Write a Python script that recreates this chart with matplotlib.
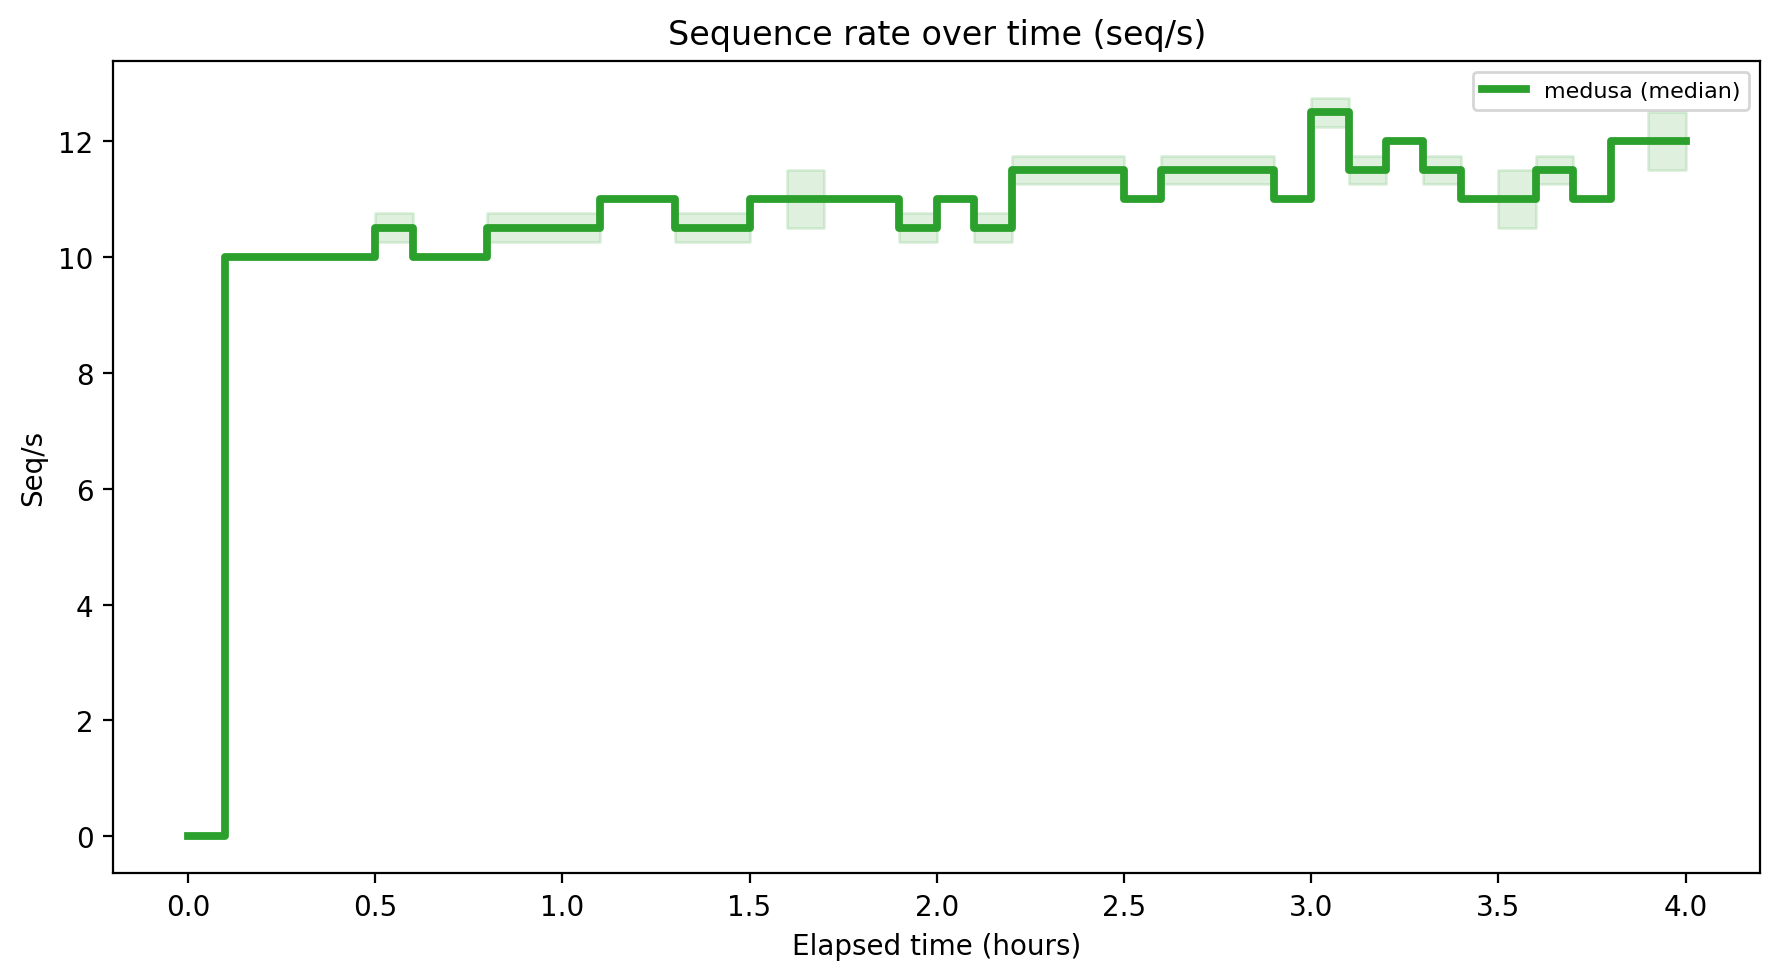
import numpy as np
from matplotlib import pyplot as plt

# elapsed time (hours), sampled every 0.1 h
hours = [0.0, 0.1, 0.2, 0.3, 0.4, 0.5, 0.6, 0.7, 0.8, 0.9,
         1.0, 1.1, 1.2, 1.3, 1.4, 1.5, 1.6, 1.7, 1.8, 1.9,
         2.0, 2.1, 2.2, 2.3, 2.4, 2.5, 2.6, 2.7, 2.8, 2.9,
         3.0, 3.1, 3.2, 3.3, 3.4, 3.5, 3.6, 3.7, 3.8, 3.9, 4.0]

# median sequence rate per bin (seq/s)
median = [0, 10, 10, 10, 10, 10.5, 10, 10, 10.5, 10.5,
          10.5, 11, 11, 10.5, 10.5, 11, 11, 11, 11, 10.5,
          11, 10.5, 11.5, 11.5, 11.5, 11, 11.5, 11.5, 11.5, 11,
          12.5, 11.5, 12, 11.5, 11, 11, 11.5, 11, 12, 12, 12]

# spread around the median (lower / upper bound)
low = [0, 10, 10, 10, 10, 10.25, 10, 10, 10.25, 10.25,
       10.25, 11, 11, 10.25, 10.25, 11, 10.5, 11, 11, 10.25,
       11, 10.25, 11.25, 11.25, 11.25, 11, 11.25, 11.25, 11.25, 11,
       12.25, 11.25, 12, 11.25, 11, 10.5, 11.25, 11, 12, 11.5, 12]
high = [0, 10, 10, 10, 10, 10.75, 10, 10, 10.75, 10.75,
        10.75, 11, 11, 10.75, 10.75, 11, 11.5, 11, 11, 10.75,
        11, 10.75, 11.75, 11.75, 11.75, 11, 11.75, 11.75, 11.75, 11,
        12.75, 11.75, 12, 11.75, 11, 11.5, 11.75, 11, 12, 12.5, 12]

color = "#2ca02c"

fig, ax = plt.subplots(figsize=(8.9, 4.89), dpi=200)
ax.fill_between(hours, low, high, step="post", color=color, alpha=0.15)
ax.step(hours, median, where="post", color=color, linewidth=2.8, label="medusa (median)")

ax.set_title("Sequence rate over time (seq/s)")
ax.set_xlabel("Elapsed time (hours)")
ax.set_ylabel("Seq/s")
ax.legend(loc="upper right", fontsize=8)

fig.subplots_adjust(left=0.0635, right=0.989, top=0.937, bottom=0.106)
fig.savefig("out.png")
